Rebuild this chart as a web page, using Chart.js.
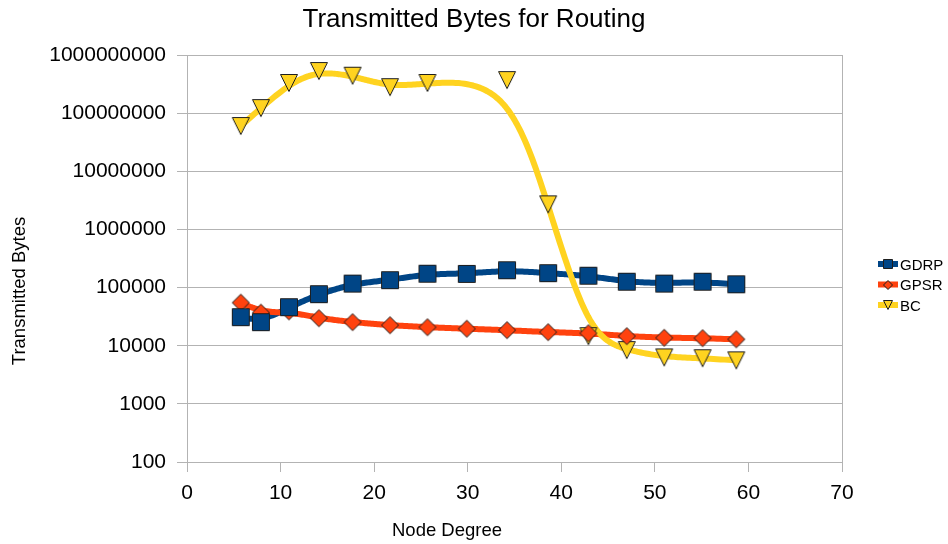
<!DOCTYPE html>
<html>
<head>
<meta charset="utf-8">
<title>Transmitted Bytes for Routing</title>
<script src="https://cdn.jsdelivr.net/npm/chart.js@4/dist/chart.umd.min.js"></script>
<style>
  html, body { margin: 0; padding: 0; background: #ffffff; }
  #wrap { width: 948px; height: 544px; }
</style>
</head>
<body>
<div id="wrap"><canvas id="chart" width="948" height="544"></canvas></div>
<script>
// Node degree of each simulation run (shared x values)
const nodeDegree = [5.75, 7.9, 10.9, 14.1, 17.7, 21.7, 25.7, 29.9, 34.2, 38.6, 42.9, 47.0, 51.0, 55.1, 58.7];

// Transmitted bytes per protocol (null = no run at that degree)
const gdrpBytes = [31000, 25400, 46000, 77000, 117000, 134000, 173000, 172000, 199000, 177000, 160000, 126000, 117000, 126000, 114000];
const gpsrBytes = [55000, 37000, 39000, 29700, 25400, 22500, 20800, 19600, 18500, 17100, 16400, 14600, 13700, 13500, 12900];
const bcBytes   = [60000000, 122000000, 330000000, 530000000, 440000000, 280000000, 330000000, null, 370000000, 2700000, 14600, 8400, 6300, 6100, 5600];

const seriesNames  = ['GDRP', 'GPSR', 'BC'];
const seriesColors = ['#004586', '#ff420e', '#ffd320'];

// Axis ticks
const xTickValues = [0, 10, 20, 30, 40, 50, 60, 70];
const yTickValues = [100, 1000, 10000, 100000, 1000000, 10000000, 100000000, 1000000000];

const FONT = "'Liberation Sans', Arial, sans-serif";
const GRID = '#b3b3b3';

// Marker glyphs drawn once into small canvases
function makeMarker(shape, size, fill) {
  const c = document.createElement('canvas');
  c.width = size + 2; c.height = size + 2;
  const g = c.getContext('2d');
  const a = 1.5, b = size + 0.5, m = (size + 2) / 2;
  g.beginPath();
  if (shape === 'square') {
    g.rect(a, a, b - a, b - a);
  } else if (shape === 'diamond') {
    g.moveTo(m, a); g.lineTo(b, m); g.lineTo(m, b); g.lineTo(a, m); g.closePath();
  } else {
    g.moveTo(a, a); g.lineTo(b, a); g.lineTo(m, b); g.closePath();
  }
  g.fillStyle = fill; g.fill();
  g.lineWidth = 1; g.strokeStyle = '#1e1e1e'; g.stroke();
  return c;
}
const shapes = ['square', 'diamond', 'triangle'];
const plotMarkers   = shapes.map((s, i) => makeMarker(s, 18, seriesColors[i]));
const legendMarkers = shapes.map((s, i) => makeMarker(s, 10, seriesColors[i]));

function toPoints(values) {
  return nodeDegree.map((x, i) => ({ x: x, y: values[i] })).filter(p => p.y !== null);
}

// Clamped uniform cubic B-spline through the control polygon (pixel space)
function bspline(pts, steps) {
  const n = pts.length;
  if (n < 2) return pts.slice();
  const p = Math.min(3, n - 1);
  const m = n - p;
  const knots = [];
  for (let i = 0; i <= p; i++) knots.push(0);
  for (let i = 1; i < m; i++) knots.push(i);
  for (let i = 0; i <= p; i++) knots.push(m);
  const out = [];
  const total = m * steps;
  for (let s = 0; s <= total; s++) {
    const u = s / steps;
    const k = Math.min(Math.floor(u) + p, n - 1);
    const d = [];
    for (let j = 0; j <= p; j++) d.push({ x: pts[j + k - p].x, y: pts[j + k - p].y });
    for (let r = 1; r <= p; r++) {
      for (let j = p; j >= r; j--) {
        const den = knots[j + 1 + k - r] - knots[j + k - p];
        const al = den === 0 ? 0 : (u - knots[j + k - p]) / den;
        d[j] = { x: (1 - al) * d[j - 1].x + al * d[j].x, y: (1 - al) * d[j - 1].y + al * d[j].y };
      }
    }
    out.push(d[p]);
  }
  return out;
}

// Smooth series lines under all markers
const splineLines = {
  id: 'splineLines',
  beforeDatasetsDraw(chart) {
    const ctx = chart.ctx;
    ctx.save();
    chart.data.datasets.forEach((ds, i) => {
      const meta = chart.getDatasetMeta(i);
      const pts = meta.data.filter(el => !el.skip).map(el => ({ x: el.x, y: el.y }));
      const path = bspline(pts, 24);
      ctx.beginPath();
      path.forEach((q, k) => (k ? ctx.lineTo(q.x, q.y) : ctx.moveTo(q.x, q.y)));
      ctx.lineWidth = 6;
      ctx.lineJoin = 'round';
      ctx.lineCap = 'butt';
      ctx.strokeStyle = ds.borderColor;
      ctx.stroke();
    });
    ctx.restore();
  }
};

// Title, axis titles and legend
const chartTexts = {
  id: 'chartTexts',
  afterDraw(chart) {
    const ctx = chart.ctx;
    ctx.save();
    ctx.fillStyle = '#000000';
    ctx.textBaseline = 'alphabetic';

    ctx.font = '26px ' + FONT;
    ctx.textAlign = 'center';
    ctx.fillText('Transmitted Bytes for Routing', 474, 27);

    ctx.font = '18.5px ' + FONT;
    ctx.fillText('Node Degree', 447, 536);

    ctx.save();
    ctx.translate(25, 291);
    ctx.rotate(-Math.PI / 2);
    ctx.fillText('Transmitted Bytes', 0, 0);
    ctx.restore();

    const rows = [264, 284.5, 305];
    ctx.font = '15px ' + FONT;
    ctx.textAlign = 'left';
    chart.data.datasets.forEach((ds, i) => {
      const y = rows[i];
      ctx.fillStyle = ds.borderColor;
      ctx.fillRect(878, y - 3, 20, 6);
      const mk = legendMarkers[i];
      ctx.drawImage(mk, Math.round(888 - mk.width / 2), Math.round(y - mk.height / 2));
      ctx.fillStyle = '#000000';
      ctx.fillText(ds.label, 900, y + 5.5);
    });
    ctx.restore();
  }
};

const datasets = [gdrpBytes, gpsrBytes, bcBytes].map((vals, i) => ({
  label: seriesNames[i],
  data: toPoints(vals),
  borderColor: seriesColors[i],
  backgroundColor: seriesColors[i],
  showLine: false,
  pointStyle: plotMarkers[i],
  pointRadius: 9,
  pointHoverRadius: 9
}));

new Chart(document.getElementById('chart'), {
  type: 'line',
  data: { datasets: datasets },
  options: {
    responsive: false,
    animation: false,
    devicePixelRatio: 1,
    events: [],
    layout: { padding: { left: 0, top: 55, right: 106, bottom: 0 } },
    plugins: {
      legend: { display: false },
      title: { display: false },
      tooltip: { enabled: false }
    },
    scales: {
      x: {
        type: 'linear',
        min: 0,
        max: 70,
        afterBuildTicks: s => { s.ticks = xTickValues.map(v => ({ value: v })); },
        afterFit: s => { s.height = 82; },
        ticks: { font: { family: FONT, size: 21 }, color: '#000000', padding: 9, maxRotation: 0 },
        grid: {
          color: c => (c.tick && c.tick.value === 70) ? GRID : 'rgba(0,0,0,0)',
          tickColor: GRID,
          tickLength: 10,
          lineWidth: 1
        },
        border: { color: GRID, width: 1 }
      },
      y: {
        type: 'logarithmic',
        min: 100,
        max: 1000000000,
        afterBuildTicks: s => { s.ticks = yTickValues.map(v => ({ value: v })); },
        afterFit: s => { s.width = 187; },
        ticks: {
          font: { family: FONT, size: 21 },
          color: '#000000',
          padding: 11,
          callback: v => String(v)
        },
        grid: { color: GRID, tickColor: GRID, tickLength: 10, lineWidth: 1 },
        border: { color: GRID, width: 1 }
      }
    }
  },
  plugins: [splineLines, chartTexts]
});
</script>
</body>
</html>
